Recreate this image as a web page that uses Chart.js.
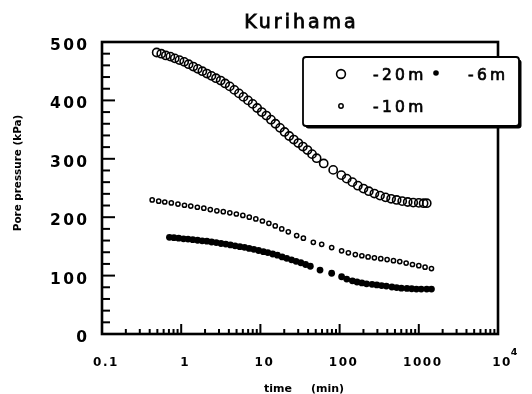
<!DOCTYPE html>
<html><head><meta charset="utf-8">
<script src="https://cdn.jsdelivr.net/npm/chart.js@4.4.0/dist/chart.umd.min.js"></script>
<style>html,body{margin:0;padding:0;background:#fff;}canvas{display:block;}</style>
</head><body>
<canvas id="c" width="532" height="394"></canvas>
<script>
const chartTitle = "Kurihama";
const xAxisTitle = "time     (min)";
const yAxisTitle = "Pore pressure (kPa)";
const xTickValues = [0.1, 1, 10, 100, 1000, 10000];
const xTickLabels = ["0.1", "1", "10", "100", "1000", "10"];
const xTickSup = ["", "", "", "", "", "4"];
const yTickValues = [0, 100, 200, 300, 400, 500];
const seriesNames = ["-20m", "-6m", "-10m"];

// -20 m (open large circles)
const t20 = [0.49,0.56,0.64,0.73,0.83,0.95,1.09,1.24,1.42,1.62,1.85,2.11,2.41,2.75,3.15,3.59,4.10,4.69,5.36,6.11,6.98,7.98,9.10,10.4,11.9,13.6,15.5,17.7,20.2,23.1,26.4,30.1,34.4,39.3,44.9,51.3,63,83,105,123,145,170,200,234,275,324,380,447,525,617,724,851,1000,1150,1260];
const p20 = [482,480,477,475,472,469,466,462,458,454,450,446,442,438,434,429,424,418,412,406,400,394,387,380,374,367,360,353,346,339,333,327,321,315,308,301,292,281,272,266,260,254,249,244.5,240.5,237,234,231.5,229.5,227.5,226,225,224.5,224,224];
// -10 m (small open circles)
const t10 = [0.43,0.52,0.62,0.75,0.91,1.10,1.32,1.60,1.93,2.33,2.82,3.40,4.11,4.97,6.0,7.24,8.75,10.6,12.8,15.4,18.6,22.5,28.7,34.9,46.6,59.4,79.4,106,129,158,191,229,275,331,398,479,575,692,832,1000,1200,1445];
const p10 = [229.5,227.5,226,224.5,222.5,220.5,219,217,215.5,213,211,209.5,207.5,205.5,203,200,197,193.5,189.5,185,180,175,168.5,164,157,153.5,148,142.5,139,136,134,132,130.5,129,127.5,125.5,124,121.5,119,117,114.5,112];
// -6 m (filled circles)
const t6 = [0.71,0.81,0.93,1.07,1.22,1.40,1.61,1.84,2.11,2.42,2.77,3.18,3.65,4.18,4.79,5.50,6.30,7.21,8.26,9.48,10.9,12.4,14.3,16.4,18.8,21.5,24.7,28.2,32.4,37.2,42.7,56.6,79.4,106,123,145,166,191,219,257,295,339,389,457,525,603,708,813,933,1072,1259,1445];
const p6 = [165.5,165,164,163,162.5,161.5,160.5,159.5,159,157.5,156.5,155,154,152.5,151,149.5,148.5,146.5,145,143,141,139.5,137,135,132,129.5,127,124.5,122,119,116,109.5,104,98,94,91,89,87.5,86,85,84,83,82,80.5,79.5,78.5,78,77.5,77,77,77,77];

const pts = (t, p) => t.map((v, i) => ({x: v, y: p[i]}));

const FONT = '"DejaVu Sans", "Liberation Sans", sans-serif';

function mediumText(ctx, s, x, y, w) {
  ctx.fillText(s, x, y);
  ctx.lineWidth = w;
  ctx.strokeText(s, x, y);
}

const decor = {
  id: 'decor',
  afterDraw(chart) {
    const {ctx, chartArea: a, scales: {x, y}} = chart;
    ctx.save();
    ctx.strokeStyle = '#000';
    ctx.fillStyle = '#000';
    // y tick marks (inward)
    ctx.lineWidth = 2;
    for (let v = 0; v <= 500; v += 20) {
      const py = y.getPixelForValue(v);
      const len = (v % 100 === 0) ? 13 : 8;
      ctx.beginPath(); ctx.moveTo(a.left, py); ctx.lineTo(a.left + len, py); ctx.stroke();
    }
    // x tick marks (inward)
    for (let d = 0.1; d < 20000; d *= 10) {
      for (let m = 1; m <= 9; m++) {
        const v = m * d;
        if (v > 10000 * 1.0001) break;
        const px = x.getPixelForValue(v);
        const len = m === 1 ? 10 : 5;
        ctx.beginPath(); ctx.moveTo(px, a.bottom); ctx.lineTo(px, a.bottom - len); ctx.stroke();
      }
    }
    // frame
    ctx.lineWidth = 2.6;
    ctx.strokeRect(a.left, a.top, a.right - a.left, a.bottom - a.top);

    // y tick labels
    ctx.font = 'bold 15.5px ' + FONT;
    ctx.letterSpacing = '2.3px';
    ctx.textAlign = 'right';
    ctx.textBaseline = 'alphabetic';
    yTickValues.forEach(v => {
      ctx.fillText(String(v), a.left - 15 + 2.3, y.getPixelForValue(v) + 8);
    });
    // x tick labels
    ctx.letterSpacing = '1.5px';
    ctx.textAlign = 'center';
    xTickValues.forEach((v, i) => {
      const px = x.getPixelForValue(v) + 4;
      ctx.font = 'bold 12px ' + FONT;
      ctx.fillText(xTickLabels[i], px, a.bottom + 32);
      if (xTickSup[i]) {
        const w = ctx.measureText(xTickLabels[i]).width;
        ctx.font = 'bold 9.5px ' + FONT;
        ctx.textAlign = 'left';
        ctx.fillText(xTickSup[i], px + w / 2 - 1, a.bottom + 21);
        ctx.textAlign = 'center';
      }
    });
    // axis titles
    ctx.letterSpacing = '0px';
    ctx.font = 'bold 11px ' + FONT;
    ctx.textAlign = 'center';
    ctx.fillText(xAxisTitle, (a.left + a.right) / 2 + 4, 392);
    ctx.save();
    ctx.translate(21, 173);
    ctx.rotate(-Math.PI / 2);
    ctx.font = 'bold 10.4px ' + FONT;
    ctx.fillText(yAxisTitle, 0, 0);
    ctx.restore();
    // chart title
    ctx.font = '19px ' + FONT;
    ctx.letterSpacing = '3px';
    mediumText(ctx, chartTitle, (a.left + a.right) / 2 + 1.5, 28, 0.8);

    // legend box
    ctx.letterSpacing = '0px';
    ctx.fillStyle = '#000';
    ctx.beginPath(); ctx.roundRect(305.5, 59.5, 216, 69, 3); ctx.fill();
    ctx.fillStyle = '#fff';
    ctx.beginPath(); ctx.roundRect(303, 57, 216, 69, 3); ctx.fill();
    ctx.lineWidth = 1.8; ctx.stroke();
    // legend markers
    ctx.lineWidth = 1.6;
    ctx.beginPath(); ctx.arc(341, 74, 4.4, 0, Math.PI * 2); ctx.stroke();
    ctx.lineWidth = 1.5;
    ctx.beginPath(); ctx.arc(341, 106, 2.2, 0, Math.PI * 2); ctx.stroke();
    ctx.fillStyle = '#000';
    ctx.beginPath(); ctx.arc(436, 73, 2.8, 0, Math.PI * 2); ctx.fill();
    // legend text
    ctx.font = '15.5px ' + FONT;
    ctx.letterSpacing = '3.3px';
    ctx.textAlign = 'left';
    mediumText(ctx, seriesNames[0], 373, 80, 0.7);
    mediumText(ctx, seriesNames[1], 468, 80, 0.7);
    mediumText(ctx, seriesNames[2], 373, 112, 0.7);
    ctx.restore();
  }
};

new Chart(document.getElementById('c'), {
  type: 'scatter',
  data: {
    datasets: [
      { label: seriesNames[0], data: pts(t20, p20), pointStyle: 'circle', pointRadius: 4.1, borderWidth: 1.6,
        borderColor: '#000', backgroundColor: 'rgba(0,0,0,0)' },
      { label: seriesNames[1], data: pts(t6, p6), pointStyle: 'circle', pointRadius: 3.4, borderWidth: 0,
        borderColor: '#000', backgroundColor: '#000' },
      { label: seriesNames[2], data: pts(t10, p10), pointStyle: 'circle', pointRadius: 2.1, borderWidth: 1.5,
        borderColor: '#000', backgroundColor: 'rgba(0,0,0,0)' }
    ]
  },
  options: {
    responsive: false,
    devicePixelRatio: 1,
    animation: false,
    layout: { padding: { left: 102, right: 34, top: 42, bottom: 60 } },
    plugins: { legend: { display: false }, title: { display: false }, tooltip: { enabled: false } },
    scales: {
      x: { type: 'logarithmic', min: 0.1, max: 10000, display: false },
      y: { type: 'linear', min: 0, max: 500, display: false }
    }
  },
  plugins: [decor]
});
</script>
</body></html>
